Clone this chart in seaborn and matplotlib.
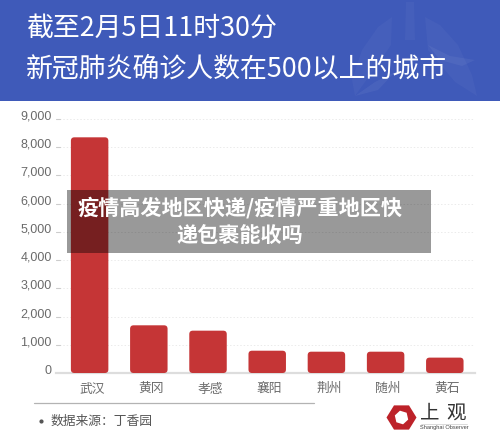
import matplotlib
matplotlib.use('Agg')
import matplotlib.pyplot as plt
from matplotlib.patches import FancyBboxPatch, Polygon, Rectangle
from matplotlib.transforms import offset_copy
import numpy as np
import pandas as pd
import seaborn as sns

cities = ['武汉', '黄冈', '孝感', '襄阳', '荆州', '随州', '黄石']
confirmed = [8351, 1690, 1500, 790, 755, 755, 545]
y_ticks = [0, 1000, 2000, 3000, 4000, 5000, 6000, 7000, 8000, 9000]

title_lines = ['截至2月5日11时30分', '新冠肺炎确诊人数在500以上的城市']
overlay_lines = ['疫情高发地区快递/疫情严重地区快', '递包裹能收吗']
source_text = '数据来源：丁香园'

BLUE = '#3f5ab9'
RED = '#c53536'
GREY = '#6a6a6a'
CJK = ['Noto Sans CJK SC', 'DejaVu Sans']

sns.set_theme(style='white')
plt.rcParams['font.family'] = CJK

W, H = 500, 443
fig = plt.figure(figsize=(W / 100, H / 100), dpi=100, facecolor='white')
ax = fig.add_axes([56 / W, 1 - 373 / H, (475 - 56) / W, (373 - 119) / H])

df = pd.DataFrame({'city': cities, 'confirmed': confirmed})
sns.barplot(data=df, x='city', y='confirmed', color=RED, saturation=1, width=0.633, ax=ax)
ax.set_xlim(-0.568, 6.51)
ax.set_ylim(0, 9000)
ax.set_xlabel('')
ax.set_ylabel('')

ax.set_yticks(y_ticks)
ax.set_yticklabels([f'{v:,}' for v in y_ticks], family='Liberation Sans', fontsize=9, color=GREY)
ax.tick_params(axis='y', length=0, pad=3)
for lab in ax.get_yticklabels():
    lab.set_transform(offset_copy(lab.get_transform(), fig=fig, x=0, y=4, units='dots'))
ax.tick_params(axis='x', length=0, labelbottom=False)

ax.grid(axis='y', color='#ebebeb', linewidth=0.7, linestyle=(0, (1.5, 2)))
ax.set_axisbelow(True)
sns.despine(ax=ax, left=True, top=True, right=True)
ax.spines['bottom'].set_color('#dddddd')
ax.spines['bottom'].set_linewidth(1.6)

# pixel-coordinate layer for everything outside the plot
top = fig.add_axes([0, 0, 1, 1], zorder=5)
top.set_xlim(0, W)
top.set_ylim(H, 0)
top.axis('off')
top.patch.set_alpha(0)

# short tick marks on the y axis
for v in y_ticks[1:]:
    py = ax.transData.transform((0, v))[1]
    top.plot([56, 60], [H - py, H - py], color='#cccccc', lw=0.8)

# city labels, agg places these glyphs unevenly so some need a nudge to line up
label_nudge = [1, 0, 1, 1, 0, 0, 0]
for i, city in enumerate(cities):
    px = ax.transData.transform((i, 0))[0]
    top.text(px + 2.5, 391.5 + label_nudge[i], city, color=GREY, fontsize=9.2, ha='center', va='baseline')

# rounded bars, taken from the seaborn rectangles
for bar in list(ax.patches):
    (x0, y0), (x1, y1) = ax.transData.transform(bar.get_bbox().get_points())
    bar.set_visible(False)
    r = 3.5
    top.add_patch(FancyBboxPatch((x0 + r, H - y1 + r), x1 - x0 - 2 * r, y1 - y0 - 2 * r,
                                 boxstyle=f'round,pad={r},rounding_size={r}',
                                 fc=RED, ec='none', zorder=2))

# header with faint lungs behind the title
top.add_patch(Rectangle((0, 0), W, 100.5, fc=BLUE, ec='none', zorder=1))
lung = '#ffffff'
top.add_patch(Polygon([(406, 2), (414, 2), (415, 40), (405, 40)], fc=lung, ec='none', alpha=0.03, zorder=1.1))
top.add_patch(Polygon([(392, 17), (391, 45), (375, 68), (355, 96), (352, 80), (362, 50), (378, 27)],
                      fc=lung, ec='none', alpha=0.03, zorder=1.1))
top.add_patch(Polygon([(425, 17), (440, 25), (458, 45), (472, 75), (477, 96), (455, 82), (428, 50)],
                      fc=lung, ec='none', alpha=0.03, zorder=1.1))
top.add_patch(Polygon([(428, 45), (450, 56), (475, 60), (462, 66), (440, 60)], fc=lung, ec='none', alpha=0.05, zorder=1.1))
top.add_patch(Polygon([(395, 72), (375, 82), (355, 96), (378, 90)], fc=lung, ec='none', alpha=0.05, zorder=1.1))
top.text(26, 28.5, title_lines[0], color='white', fontsize=19.4, va='center', ha='left', zorder=3)
top.text(26, 69.5, title_lines[1], color='white', fontsize=19.4, va='center', ha='left', zorder=3)

# footer
top.plot([34, 314], [403.3, 403.3], color='#b3b3b3', lw=0.9)
top.plot([40.5], [421], 'o', color='#555555', ms=2)
top.text(51, 421, source_text, color='#555555', fontsize=9.2, va='center', ha='left')

# logo
angles = np.deg2rad(np.arange(0, 360, 60))
top.add_patch(Polygon(np.c_[401.5 + 15 * np.cos(angles), 417.5 + 14 * np.sin(angles)], fc='#bd2229', ec='none'))
top.add_patch(Polygon(np.c_[401.5 + 7 * np.cos(angles + 0.3), 417.5 + 7 * np.sin(angles + 0.3)], fc='white', ec='none'))
top.text(430, 413, '上', color='#333333', fontsize=14, ha='center', va='center')
top.text(456, 413, '观', color='#333333', fontsize=14, ha='center', va='center')
top.plot([421, 467], [423.5, 423.5], color='#cccccc', lw=0.5)
top.text(444, 428, 'Shanghai Observer', color='#444444', fontsize=4.1, family='Liberation Sans', ha='center', va='center')

# grey caption band over the chart
top.add_patch(Rectangle((67, 190), 364, 63, fc='black', alpha=0.4, ec='none', zorder=6))
top.text(240, 207.5, overlay_lines[0], color='white', fontsize=15.2, fontweight='bold', ha='center', va='center', zorder=7)
top.text(240, 235, overlay_lines[1], color='white', fontsize=15.2, fontweight='bold', ha='center', va='center', zorder=7)

fig.savefig('out.png', dpi=100)
